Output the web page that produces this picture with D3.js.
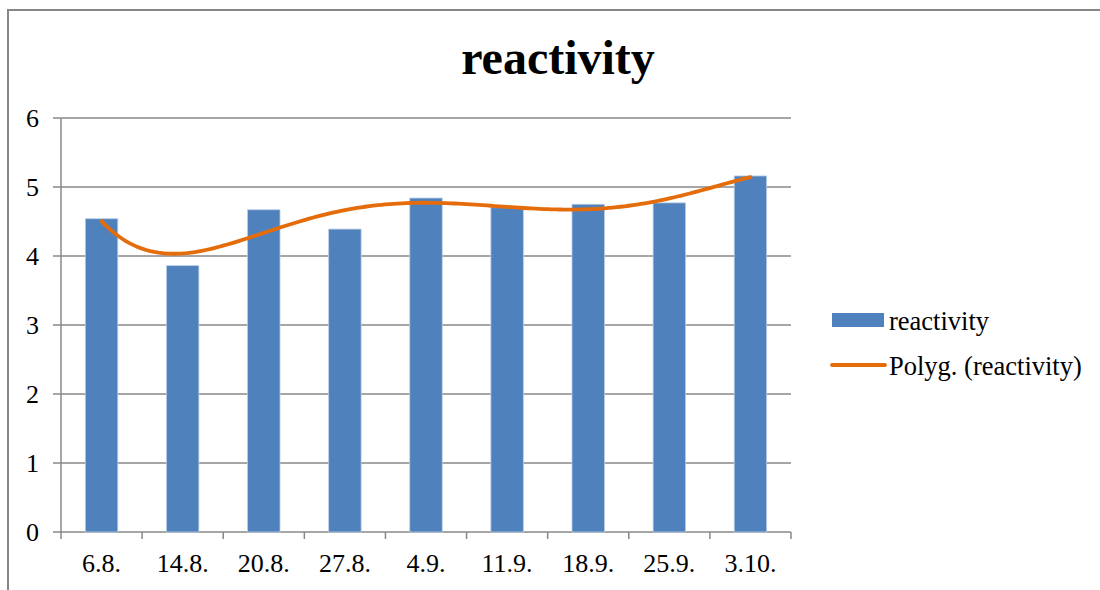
<!DOCTYPE html>
<html>
<head>
<meta charset="utf-8">
<script src="https://cdn.jsdelivr.net/npm/d3@7"></script>
<style>
  body { margin: 0; background: #fff; }
  svg { display: block; font-family: "Liberation Serif", "Times New Roman", serif; }
</style>
</head>
<body>
<svg id="chart" width="1100" height="590"></svg>
<script>
const categories = ['6.8.', '14.8.', '20.8.', '27.8.', '4.9.', '11.9.', '18.9.', '25.9.', '3.10.'];
const values = [4.54, 3.86, 4.67, 4.39, 4.84, 4.70, 4.75, 4.77, 5.16];
const yTicks = [0, 1, 2, 3, 4, 5, 6];
const trendOrder = 5;

const plot = { left: 61, right: 791, top: 118, bottom: 532 };
const svg = d3.select('#chart');

// outer chart border (right and bottom fall outside the picture)
svg.append('rect')
  .attr('x', 8).attr('y', 10)
  .attr('width', 1110).attr('height', 600)
  .attr('fill', 'none').attr('stroke', '#878787').attr('stroke-width', 2);

svg.append('text')
  .attr('x', 558).attr('y', 74)
  .attr('text-anchor', 'middle')
  .attr('font-size', 48).attr('font-weight', 'bold')
  .text('reactivity');

const x = d3.scaleBand().domain(categories).range([plot.left, plot.right]).paddingInner(0).paddingOuter(0);
const y = d3.scaleLinear().domain([0, 6]).range([plot.bottom, plot.top]);

// gridlines
svg.append('g')
  .selectAll('line')
  .data(yTicks)
  .join('line')
  .attr('x1', plot.left - 8).attr('x2', plot.right)
  .attr('y1', d => y(d)).attr('y2', d => y(d))
  .attr('stroke', '#888').attr('stroke-width', 1.5);

svg.append('g')
  .selectAll('text')
  .data(yTicks)
  .join('text')
  .attr('x', 39).attr('y', d => y(d))
  .attr('text-anchor', 'end').attr('dominant-baseline', 'central')
  .attr('font-size', 26)
  .text(d => d);

// axes
svg.append('line')
  .attr('x1', plot.left).attr('x2', plot.left)
  .attr('y1', plot.top).attr('y2', plot.bottom)
  .attr('stroke', '#888').attr('stroke-width', 1.5);

const xTickPos = categories.map(c => x(c)).concat([plot.right]);
svg.append('g')
  .selectAll('line')
  .data(xTickPos)
  .join('line')
  .attr('x1', d => d).attr('x2', d => d)
  .attr('y1', plot.bottom).attr('y2', plot.bottom + 7)
  .attr('stroke', '#888').attr('stroke-width', 1.5);

svg.append('g')
  .selectAll('text')
  .data(categories)
  .join('text')
  .attr('x', d => x(d) + x.bandwidth() / 2)
  .attr('y', 572)
  .attr('text-anchor', 'middle')
  .attr('font-size', 26)
  .text(d => d);

// bars
const barW = x.bandwidth() * 0.4;
svg.append('g')
  .selectAll('rect')
  .data(values)
  .join('rect')
  .attr('x', (d, i) => x(categories[i]) + x.bandwidth() / 2 - barW / 2)
  .attr('y', d => y(d))
  .attr('width', barW)
  .attr('height', d => y(0) - y(d))
  .attr('fill', '#4F81BD')
  .attr('stroke', '#B9CDE5').attr('stroke-width', 0.8);

// polynomial trendline (least squares, x = 1..n)
function polyFit(ys, order) {
  const n = order + 1;
  const A = Array.from({ length: n }, () => new Array(n + 1).fill(0));
  ys.forEach((v, i) => {
    const xi = i + 1;
    for (let r = 0; r < n; r++) {
      for (let c = 0; c < n; c++) A[r][c] += Math.pow(xi, r + c);
      A[r][n] += v * Math.pow(xi, r);
    }
  });
  for (let c = 0; c < n; c++) {
    let p = c;
    for (let r = c + 1; r < n; r++) if (Math.abs(A[r][c]) > Math.abs(A[p][c])) p = r;
    [A[c], A[p]] = [A[p], A[c]];
    for (let r = 0; r < n; r++) {
      if (r === c) continue;
      const f = A[r][c] / A[c][c];
      for (let k = c; k <= n; k++) A[r][k] -= f * A[c][k];
    }
  }
  return A.map((row, i) => row[n] / row[i]);
}

const coef = polyFit(values, trendOrder);
const evalPoly = t => coef.reduce((s, c, k) => s + c * Math.pow(t, k), 0);
const tx = d3.scaleLinear().domain([1, categories.length])
  .range([x(categories[0]) + x.bandwidth() / 2, x(categories[categories.length - 1]) + x.bandwidth() / 2]);
const trendPts = d3.range(1, categories.length + 0.001, 0.05).map(t => [tx(t), y(evalPoly(t))]);

svg.append('path')
  .attr('d', d3.line()(trendPts))
  .attr('fill', 'none')
  .attr('stroke', '#E46C0A').attr('stroke-width', 3.8)
  .attr('stroke-linecap', 'round');

// legend
const legend = svg.append('g');
legend.append('rect')
  .attr('x', 832).attr('y', 313).attr('width', 52).attr('height', 14)
  .attr('fill', '#4F81BD');
legend.append('text')
  .attr('x', 889).attr('y', 330)
  .attr('font-size', 26.5)
  .text('reactivity');
legend.append('line')
  .attr('x1', 832).attr('x2', 885).attr('y1', 365).attr('y2', 365)
  .attr('stroke', '#E46C0A').attr('stroke-width', 3.8).attr('stroke-linecap', 'round');
legend.append('text')
  .attr('x', 889).attr('y', 375)
  .attr('font-size', 26.5)
  .text('Polyg. (reactivity)');
</script>
</body>
</html>
